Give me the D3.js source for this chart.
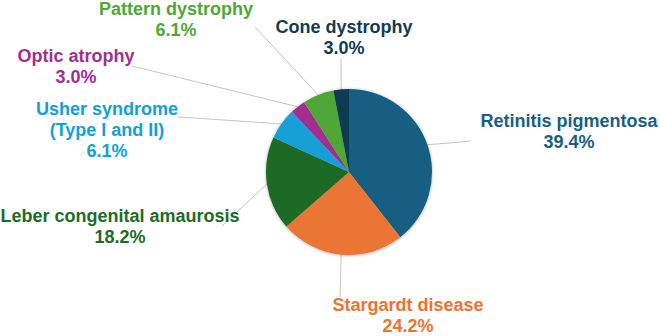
<!DOCTYPE html>
<html>
<head>
<meta charset="utf-8">
<script src="https://cdn.jsdelivr.net/npm/d3@7"></script>
<style>
  body { margin: 0; background: #fff; }
  svg { display: block; font-family: "Liberation Sans", Arial, sans-serif; }
</style>
</head>
<body>
<div id="chart"></div>
<script>
// data (clockwise from 12 o'clock)
var categories = ["Retinitis pigmentosa", "Stargardt disease", "Leber congenital amaurosis",
                  "Usher syndrome (Type I and II)", "Optic atrophy", "Pattern dystrophy", "Cone dystrophy"];
var labelLines = [["Retinitis pigmentosa"], ["Stargardt disease"], ["Leber congenital amaurosis"],
                  ["Usher syndrome", "(Type I and II)"], ["Optic atrophy"], ["Pattern dystrophy"], ["Cone dystrophy"]];
var percents = [39.4, 24.2, 18.2, 6.1, 3.0, 6.1, 3.0];
var colors = ["#175f82", "#ea7434", "#1d6b27", "#12a0d8", "#a12f90", "#4fa734", "#0f3b53"];

// hand placed label spots (label centre x, first baseline y) and leader ends
var labelPos = [[569, 127], [408, 311], [120, 222], [107, 115], [76, 62], [176, 15], [344, 33]];
var leaderEnd = [[471, 141], [340, 297], [222, 226], [178, 117], [132, 66], [255, 27], [341, 58]];

var svgWidth = 660, svgHeight = 336;
var cx = 349, cy = 172, radius = 83;

var svg = d3.select("#chart").append("svg")
    .attr("width", svgWidth)
    .attr("height", svgHeight);

var defs = svg.append("defs");
var f = defs.append("filter").attr("id", "shadow")
    .attr("x", "-20%").attr("y", "-20%").attr("width", "140%").attr("height", "140%");
f.append("feDropShadow").attr("dx", 0).attr("dy", 0.5)
    .attr("stdDeviation", 1.5).attr("flood-color", "#000").attr("flood-opacity", 0.35);

var pie = d3.pie().sort(null).value(d => d)(percents);
var arc = d3.arc().innerRadius(0).outerRadius(radius);

var g = svg.append("g").attr("transform", "translate(" + cx + "," + cy + ")");

// leader lines
g.selectAll(".leader")
    .data(pie)
    .enter().append("line")
    .attr("class", "leader")
    .attr("x1", d => radius * Math.sin((d.startAngle + d.endAngle) / 2))
    .attr("y1", d => -radius * Math.cos((d.startAngle + d.endAngle) / 2))
    .attr("x2", (d, i) => leaderEnd[i][0] - cx)
    .attr("y2", (d, i) => leaderEnd[i][1] - cy)
    .attr("stroke", "#c4c4c4")
    .attr("stroke-width", 1);

// slices
var slices = g.append("g").attr("filter", "url(#shadow)");
slices.selectAll("path")
    .data(pie)
    .enter().append("path")
    .attr("d", arc)
    .attr("fill", (d, i) => colors[i]);

// labels
var labels = svg.selectAll(".lbl")
    .data(pie)
    .enter().append("text")
    .attr("class", "lbl")
    .attr("text-anchor", "middle")
    .attr("font-size", "18px")
    .attr("font-weight", "bold")
    .attr("fill", (d, i) => colors[i]);

labels.each(function(d, i) {
    var t = d3.select(this);
    var lines = labelLines[i].concat([percents[i].toFixed(1) + "%"]);
    lines.forEach(function(s, k) {
        t.append("tspan")
            .attr("x", labelPos[i][0])
            .attr("y", labelPos[i][1] + k * 21)
            .text(s);
    });
});
</script>
</body>
</html>
